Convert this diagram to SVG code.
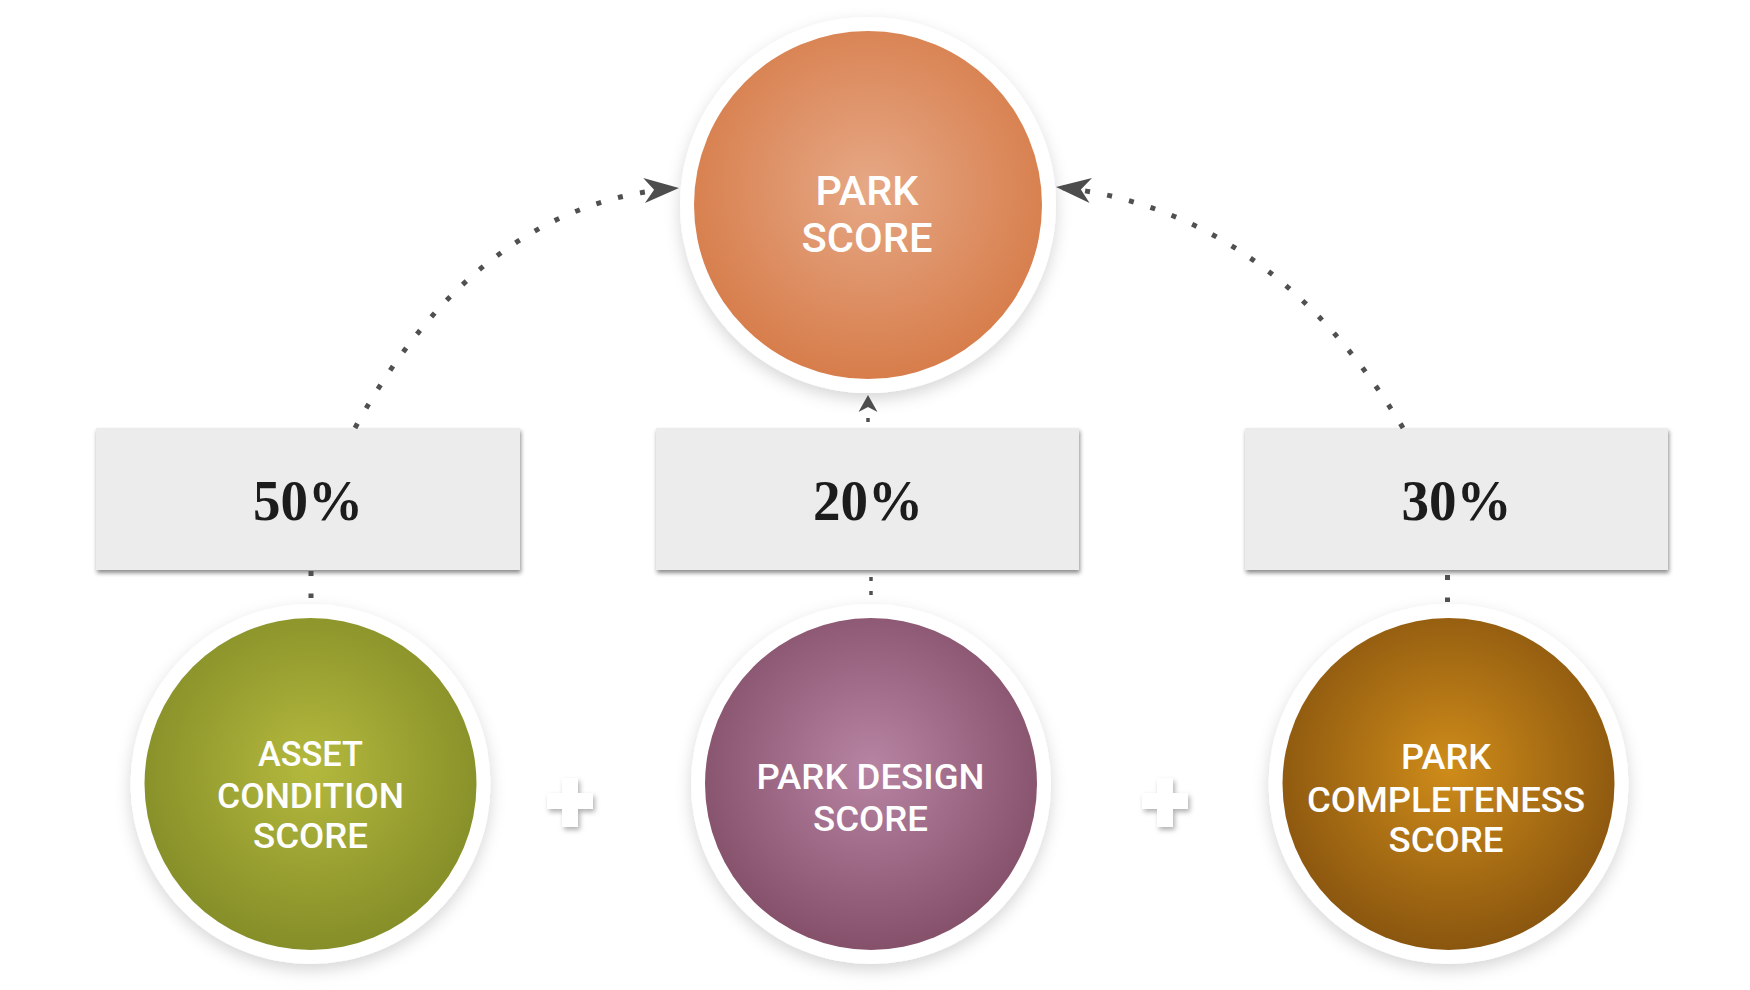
<svg xmlns="http://www.w3.org/2000/svg" width="1750" height="990" viewBox="0 0 1750 990">
  <defs>
    <style>
      .ring { fill: #ffffff; filter: url(#ringShadow); }
      .box { fill: #ececec; filter: url(#boxShadow); }
      .pct { font-family: "Liberation Serif", "DejaVu Serif", serif; font-weight: 700; font-size: 56px; fill: #1c1c1c; text-anchor: middle; }
      .lbl { font-family: Roboto, "Liberation Sans", Arial, sans-serif; font-weight: 500; fill: #ffffff; text-anchor: middle; }
      .big { font-size: 40px; }
      .small { font-size: 35px; }
      .dots { fill: none; stroke: #505050; stroke-width: 5; stroke-dasharray: 5 17.5; }
      .dotsThin { fill: none; stroke: #505050; stroke-width: 3.5; }
      .plus { fill: #ffffff; filter: url(#plusShadow); }
    </style>
    <radialGradient id="gOrange" cx="50%" cy="45%" r="55%">
      <stop offset="0" stop-color="#e6a885"/>
      <stop offset="1" stop-color="#d77d4b"/>
    </radialGradient>
    <radialGradient id="gGreen" cx="50%" cy="45%" r="55%">
      <stop offset="0" stop-color="#b4b93d"/>
      <stop offset="1" stop-color="#858e28"/>
    </radialGradient>
    <radialGradient id="gPurple" cx="50%" cy="45%" r="55%">
      <stop offset="0" stop-color="#b784a3"/>
      <stop offset="1" stop-color="#85506a"/>
    </radialGradient>
    <radialGradient id="gBrown" cx="50%" cy="45%" r="55%">
      <stop offset="0" stop-color="#cf8c1a"/>
      <stop offset="1" stop-color="#8a560f"/>
    </radialGradient>
    <filter id="ringShadow" x="-20%" y="-20%" width="140%" height="150%">
      <feDropShadow dx="0" dy="6" stdDeviation="8" flood-color="#000000" flood-opacity="0.16"/>
    </filter>
    <filter id="boxShadow" x="-5%" y="-10%" width="110%" height="130%">
      <feDropShadow dx="1" dy="3" stdDeviation="2.2" flood-color="#000000" flood-opacity="0.45"/>
    </filter>
    <filter id="plusShadow" x="-40%" y="-40%" width="190%" height="190%">
      <feDropShadow dx="2" dy="3" stdDeviation="2.5" flood-color="#000000" flood-opacity="0.3"/>
    </filter>
    <marker id="arrowBig" markerUnits="userSpaceOnUse" viewBox="0 -13 36 26" refX="35" refY="0" markerWidth="36" markerHeight="26" orient="auto">
      <path d="M0,-12.5 L35,0 L0,12.5 L10,0 Z" fill="#4d4d4d"/>
    </marker>
    <marker id="arrowSmall" markerUnits="userSpaceOnUse" viewBox="0 -10 18 20" refX="17" refY="0" markerWidth="18" markerHeight="20" orient="auto">
      <path d="M0,-9.5 L17,0 L0,9.5 L5,0 Z" fill="#4d4d4d"/>
    </marker>
  </defs>

  <rect x="0" y="0" width="1750" height="990" fill="#ffffff"/>

  <g id="park-score">
    <circle class="ring" cx="868" cy="205" r="188"/>
    <circle cx="868" cy="205" r="174" fill="url(#gOrange)"/>
    <text class="lbl big" x="867" y="205" textLength="103" lengthAdjust="spacingAndGlyphs">PARK</text>
    <text class="lbl big" x="867" y="252" textLength="131" lengthAdjust="spacingAndGlyphs">SCORE</text>
  </g>

  <g id="weight-50">
    <rect class="box" x="96" y="428" width="424" height="142"/>
    <text class="pct" x="308" y="520" textLength="110" lengthAdjust="spacingAndGlyphs">50%</text>
  </g>
  <g id="weight-20">
    <rect class="box" x="656" y="428" width="423" height="142"/>
    <text class="pct" x="868" y="520" textLength="110" lengthAdjust="spacingAndGlyphs">20%</text>
  </g>
  <g id="weight-30">
    <rect class="box" x="1245" y="428" width="423" height="142"/>
    <text class="pct" x="1456.5" y="520" textLength="110" lengthAdjust="spacingAndGlyphs">30%</text>
  </g>

  <g id="asset-condition-score">
    <circle class="ring" cx="310.5" cy="784" r="180"/>
    <circle cx="310.5" cy="784" r="166" fill="url(#gGreen)"/>
    <text class="lbl small" x="310.5" y="766" textLength="105" lengthAdjust="spacingAndGlyphs">ASSET</text>
    <text class="lbl small" x="310.5" y="808" textLength="187" lengthAdjust="spacingAndGlyphs">CONDITION</text>
    <text class="lbl small" x="310.5" y="848" textLength="115" lengthAdjust="spacingAndGlyphs">SCORE</text>
  </g>

  <g id="park-design-score">
    <circle class="ring" cx="871" cy="784" r="180"/>
    <circle cx="871" cy="784" r="166" fill="url(#gPurple)"/>
    <text class="lbl small" x="870.5" y="789" textLength="228" lengthAdjust="spacingAndGlyphs">PARK DESIGN</text>
    <text class="lbl small" x="870.5" y="831" textLength="115" lengthAdjust="spacingAndGlyphs">SCORE</text>
  </g>

  <g id="park-completeness-score">
    <circle class="ring" cx="1448.5" cy="784" r="180"/>
    <circle cx="1448.5" cy="784" r="166" fill="url(#gBrown)"/>
    <text class="lbl small" x="1446" y="769" textLength="90" lengthAdjust="spacingAndGlyphs">PARK</text>
    <text class="lbl small" x="1446" y="812" textLength="278" lengthAdjust="spacingAndGlyphs">COMPLETENESS</text>
    <text class="lbl small" x="1446" y="852" textLength="115" lengthAdjust="spacingAndGlyphs">SCORE</text>
  </g>

  <g id="plus-1">
    <path class="plus" d="M562,778 H578 V793 H593 V809 H578 V827 H562 V809 H547 V793 H562 Z"/>
  </g>
  <g id="plus-2">
    <path class="plus" d="M1157,778 H1173 V793 H1188 V809 H1173 V827 H1157 V809 H1142 V793 H1157 Z"/>
  </g>

  <g id="connectors">
    <path class="dots" d="M355,428 Q479,202 679,188" marker-end="url(#arrowBig)"/>
    <path class="dots" d="M1403,428 Q1271,208.5 1056,187" marker-end="url(#arrowBig)"/>
    <path class="dotsThin" stroke-dasharray="4 11" d="M868,422 L868,395" marker-end="url(#arrowSmall)"/>
    <path class="dots" stroke-dasharray="5 16" d="M311,571 L311,598"/>
    <path class="dotsThin" stroke-dasharray="4 10" d="M871,577 L871,596"/>
    <path class="dots" stroke-dasharray="5 17" d="M1447.5,575 L1447.5,602"/>
  </g>
</svg>
